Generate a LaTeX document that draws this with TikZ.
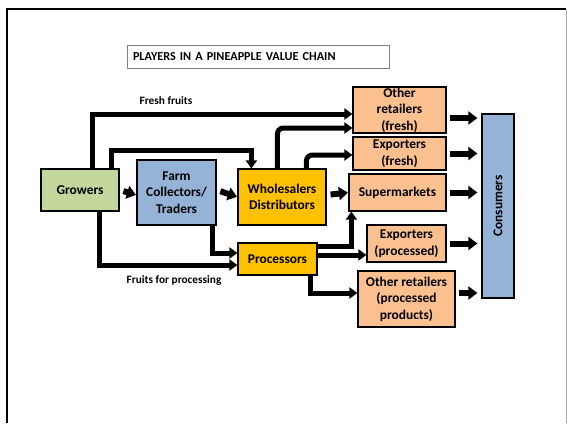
\documentclass[tikz,border=0pt]{standalone}
\usepackage{fontspec}
\setmainfont{Carlito}
\usetikzlibrary{arrows.meta}
\definecolor{cgreen}{HTML}{C3D69B}
\definecolor{cblue}{HTML}{95B3D7}
\definecolor{cyell}{HTML}{FFC000}
\definecolor{corange}{HTML}{FAC090}
\tikzset{
  box/.style={draw=black,line width=1.2pt,align=center,font=\bfseries\fontsize{13.4}{16.5}\selectfont,inner sep=0pt},
  flow/.style={line width=5pt,-{Triangle[width=11pt,length=8pt]}},
  blk/.style={line width=6pt,-{Triangle[width=13pt,length=9pt]},shorten <=3pt,shorten >=4pt},
  iblk/.style={line width=6pt,-{Triangle[width=13pt,length=9pt]},shorten <=4pt,shorten >=0.5pt},
  lbl/.style={font=\bfseries\fontsize{11.3}{13}\selectfont}
}
\begin{document}
\begin{tikzpicture}[x=1pt,y=-1pt]
\useasboundingbox (0,0) rectangle (567,423);
% frame
\draw[line width=2.5pt] (5.5,9) -- (566,9);
\draw[line width=2.5pt] (7,8) -- (7,423);
\draw[gray!70,line width=1pt] (566,10) -- (566,423);
% title
\node[draw=gray,line width=0.8pt,minimum width=262pt,minimum height=23pt,text width=250pt,align=left,inner xsep=6pt,font=\bfseries\fontsize{12.2}{14}\selectfont] (title) at (258,56.5) {PLAYERS IN A PINEAPPLE VALUE CHAIN};
% boxes
\node[box,fill=cgreen,minimum width=78pt,minimum height=42pt] (growers) at (80,190) {Growers};
\node[box,fill=cblue,minimum width=79pt,minimum height=65pt] (farm) at (176.5,192.5) {Farm\\Collectors/\\Traders};
\node[box,fill=cyell,minimum width=88pt,minimum height=56pt] (whole) at (282,197) {Wholesalers\\Distributors};
\node[box,fill=cyell,minimum width=79pt,minimum height=32pt] (proc) at (277.5,259) {Processors};
\node[box,fill=corange,minimum width=93pt,minimum height=46pt] (oret) at (399.5,110) {Other\\retailers\\(fresh)};
\node[box,fill=corange,minimum width=93pt,minimum height=33pt] (expf) at (399.5,153.5) {Exporters\\(fresh)};
\node[box,fill=corange,minimum width=97pt,minimum height=37pt] (super) at (397.5,192.5) {Supermarkets};
\node[box,fill=corange,minimum width=79pt,minimum height=37pt] (expp) at (406.5,243.5) {Exporters\\(processed)};
\node[box,fill=corange,minimum width=97pt,minimum height=56pt] (oretp) at (406.5,299) {Other retailers\\(processed\\products)};
\node[box,fill=cblue,minimum width=32pt,minimum height=184pt] (cons) at (498,206) {};
\node[font=\bfseries\fontsize{13.4}{16}\selectfont,rotate=90] (conslbl) at (cons.center) {Consumers};
% labels
\node[lbl] (ff) at (166,101) {Fresh fruits};
\node[lbl] (fp) at (174,280) {Fruits for processing};
% connectors
\draw[flow] ([xshift=52pt]growers.north west) |- ([yshift=-4pt]oret.west);
\draw[flow] ([xshift=71pt]growers.north west) |- ([xshift=14pt,yshift=18pt]whole.north west) -- ([xshift=14pt]whole.north west);
\draw[flow,rounded corners=6pt] ([xshift=40pt]whole.north west) |- ([yshift=-18pt]oret.west);
\draw[flow,rounded corners=6pt] ([xshift=69pt]whole.north west) |- ([yshift=-1.5pt]expf.west);
\draw[flow] ([xshift=59pt]growers.south west) |- ([yshift=-6pt]proc.west);
\draw[flow] ([xshift=76pt]farm.south west) |- ([yshift=6pt]proc.west);
\draw[flow] ([yshift=13pt]proc.east) -| ([xshift=3pt]super.south west);
\draw[flow] ([yshift=4pt]proc.east) -- ([yshift=-11.5pt]expp.west);
\draw[flow] ([xshift=-7pt]proc.south east) |- ([yshift=6pt]oretp.west);
% block arrows
\coordinate (o1) at ([yshift=-8pt]oret.east);
\coordinate (o5) at ([yshift=6pt]oretp.east);
\draw[iblk] (growers.east) -- ([yshift=-2.5pt]farm.west);
\draw[iblk] ([yshift=2.5pt]farm.east) -- (whole.west);
\draw[iblk] ([yshift=2pt]whole.east) -- (super.west);
\draw[blk] (o1) -- (cons.west |- o1);
\draw[blk] (expf.east) -- (cons.west |- expf.east);
\draw[blk] (super.east) -- (cons.west |- super.east);
\draw[blk] (expp.east) -- (cons.west |- expp.east);
\draw[blk] (o5) -- (cons.west |- o5);
\end{tikzpicture}
\end{document}
